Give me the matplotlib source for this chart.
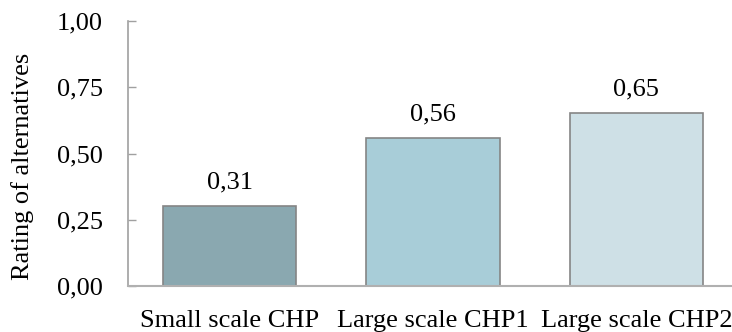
import matplotlib
matplotlib.use("Agg")
import matplotlib.pyplot as plt

# === DATA ===
categories = ["Small scale CHP", "Large scale CHP1", "Large scale CHP2"]
ratings = [0.303, 0.558, 0.653]
rating_labels = ["0,31", "0,56", "0,65"]
bar_colors = ["#8AA8B0", "#A8CDD8", "#CEE0E6"]
y_ticks = [0.0, 0.25, 0.5, 0.75, 1.0]

plt.rcParams["font.family"] = ["Liberation Serif", "DejaVu Serif"]
FS = 19

fig = plt.figure(figsize=(7.32, 3.32), dpi=100)
ax = fig.add_axes([0.1749, 0.1386, 0.8251, 0.7981])

x = list(range(len(categories)))
bars = ax.bar(x, ratings, width=0.655, color=bar_colors,
              edgecolor="#858585", linewidth=1.2, zorder=2)

# value labels (comma decimal separator)
for xi, v, lab in zip(x, ratings, rating_labels):
    ax.annotate(lab, (xi, v), xytext=(0, 9), textcoords="offset points",
                ha="center", va="bottom", fontsize=FS)

ax.set_xlim(-0.5, 2.47)
ax.set_ylim(0, 1.0)
ax.set_xticks(x)
ax.set_xticklabels(categories, fontsize=FS)
ax.set_yticks(y_ticks)
ax.set_yticklabels([f"{t:.2f}".replace(".", ",") for t in y_ticks], fontsize=FS)

ax.tick_params(axis="y", direction="in", length=6, width=1, color="#A0A0A0", pad=18)
ax.tick_params(axis="x", length=0, pad=17)

for s in ["top", "right"]:
    ax.spines[s].set_visible(False)
ax.spines["left"].set_color("#A0A0A0")
ax.spines["bottom"].set_color("#B0B0B0")
ax.spines["left"].set_linewidth(1.2)
ax.spines["bottom"].set_linewidth(1.5)

ax.set_ylabel("Rating of alternatives", fontsize=FS)
ax.yaxis.set_label_coords(-0.155, 0.45)

fig.savefig("out.png", dpi=100)
plt.close()
